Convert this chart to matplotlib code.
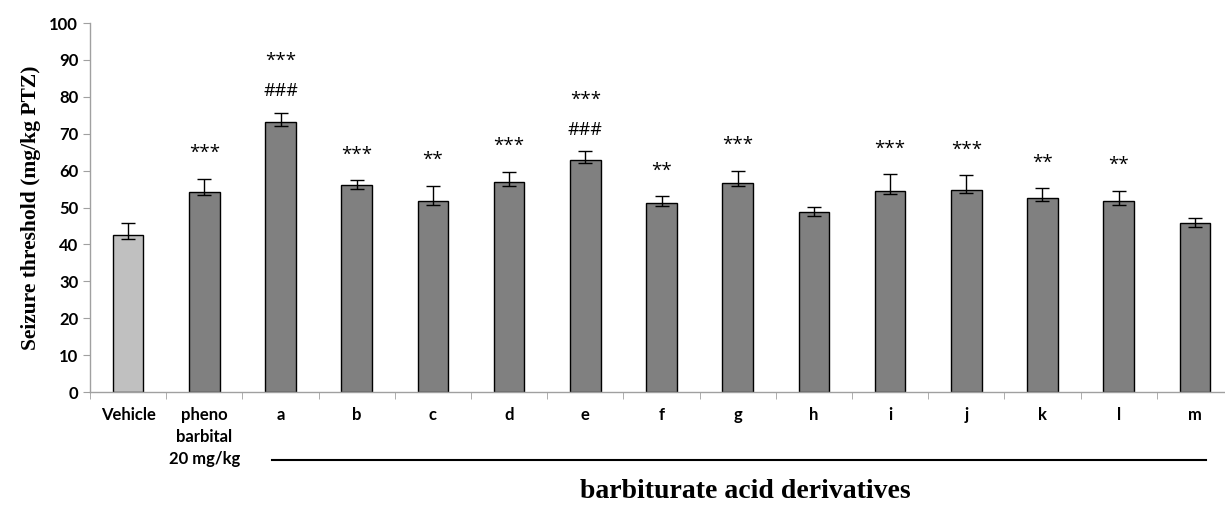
import matplotlib.pyplot as plt
from matplotlib.transforms import blended_transform_factory
import numpy as np

# data
groups = ['Vehicle', 'pheno\nbarbital\n20 mg/kg', 'a', 'b', 'c', 'd', 'e', 'f',
          'g', 'h', 'i', 'j', 'k', 'l', 'm']
means = [42.5, 54.3, 73.3, 56.1, 51.8, 56.8, 62.9, 51.3, 56.6, 48.8, 54.5, 54.7, 52.7, 51.7, 45.9]
err_up = [3.2, 3.5, 2.4, 1.3, 4.1, 2.9, 2.3, 1.7, 3.4, 1.4, 4.5, 4.0, 2.5, 2.8, 1.2]
err_low = [0.9, 0.9, 1.2, 1.1, 1.0, 0.9, 0.9, 0.9, 0.9, 1.1, 0.9, 0.9, 1.0, 1.0, 1.2]
stars = ['', '***', '***', '***', '**', '***', '***', '**', '***', '', '***', '***', '**', '**', '']
hashes = ['', '', '###', '', '', '', '###', '', '', '', '', '', '', '', '']

colors = ['#c0c0c0'] + ['#808080'] * (len(groups) - 1)

fig = plt.figure(figsize=(12.25, 5.07), dpi=100)
ax = fig.add_axes([0.0735, 0.2268, 0.933, 0.7278])

x = np.arange(len(groups))
ax.bar(x, means, width=0.4, color=colors, edgecolor='black', linewidth=1, zorder=2)
ax.errorbar(x, means, yerr=[err_low, err_up], fmt='none', ecolor='black',
            elinewidth=1, capsize=5, capthick=1, zorder=3)

for i in range(len(groups)):
    top = means[i] + err_up[i]
    if hashes[i]:
        ax.annotate(hashes[i], (x[i], top), xytext=(0, 9), textcoords='offset points',
                    ha='center', va='bottom', fontsize=13, family='Open Sans')
        ax.annotate(stars[i], (x[i], top), xytext=(0, 31), textcoords='offset points',
                    ha='center', va='bottom', fontsize=13.5, family='Open Sans')
    elif stars[i]:
        ax.annotate(stars[i], (x[i], top), xytext=(0, 12), textcoords='offset points',
                    ha='center', va='bottom', fontsize=13.5, family='Open Sans')

ax.set_xlim(-0.5, 14.5)
ax.set_ylim(0, 100)
ax.set_yticks(np.arange(0, 101, 10))
ax.set_xticks(x)
ax.set_xticklabels(groups, fontsize=12, fontweight='bold', family='Lato', linespacing=1.45)
ax.set_xticks(np.arange(-0.5, 15, 1), minor=True)
ax.tick_params(axis='x', which='major', length=0, pad=11)
ax.tick_params(axis='x', which='minor', length=5, color='#a0a0a0', direction='out')
ax.tick_params(axis='y', length=5, color='#a0a0a0', direction='out')
for lab in ax.get_yticklabels():
    lab.set_fontsize(12)
    lab.set_fontweight('bold')
    lab.set_family('Lato')

for s in ['top', 'right']:
    ax.spines[s].set_visible(False)
for s in ['left', 'bottom']:
    ax.spines[s].set_color('#a0a0a0')
    ax.spines[s].set_linewidth(1)

ax.set_ylabel('Seizure threshold (mg/kg PTZ)', fontsize=15.5, fontweight='bold',
              family='Liberation Serif', labelpad=6)

# line under the derivative groups
trans = blended_transform_factory(ax.transData, ax.transAxes)
ax.plot([1.89, 14.14], [-0.184, -0.184], color='black', linewidth=1.5,
        transform=trans, clip_on=False)
ax.text(8.1, -0.27, 'barbiturate acid derivatives', transform=trans, ha='center',
        va='center', fontsize=20, fontweight='bold', family='Liberation Serif')

fig.savefig('out.png', dpi=100)
